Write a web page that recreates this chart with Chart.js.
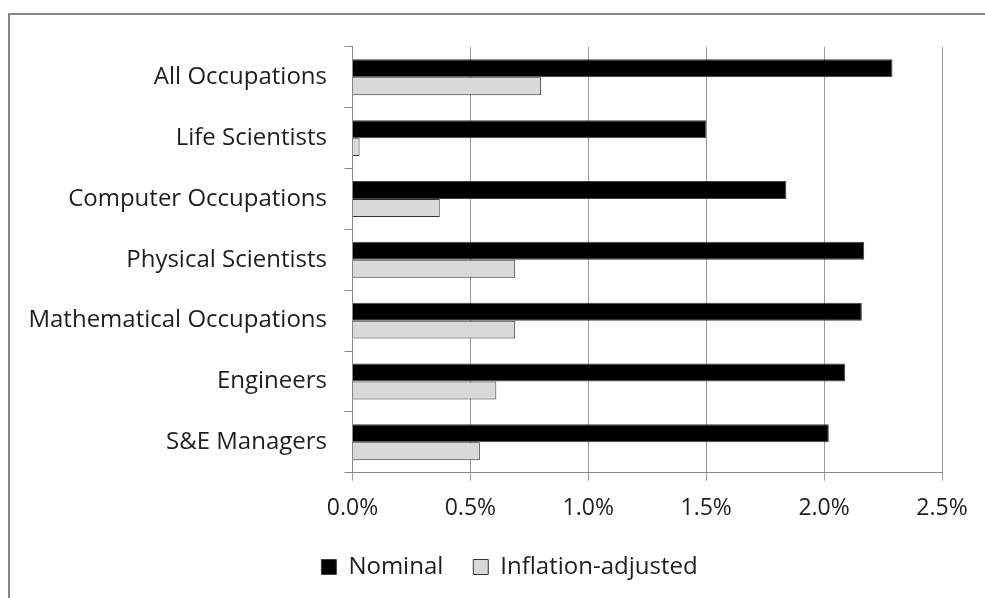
<!DOCTYPE html>
<html>
<head>
<meta charset="utf-8">
<script src="https://cdn.jsdelivr.net/npm/chart.js@4.4.1/dist/chart.umd.min.js"></script>
<style>
  html, body { margin: 0; padding: 0; background: #fff; overflow: hidden; width: 985px; height: 598px; }
  .frame { position: absolute; left: 8px; top: 13px; width: 1010px; height: 620px; border: 2px solid #878787; }
  #wageChart { position: absolute; left: 10px; top: 15px; }
</style>
</head>
<body>
<div class="frame"></div>
<canvas id="wageChart" width="972" height="574"></canvas>
<script>
const categories = [
  "All Occupations",
  "Life Scientists",
  "Computer Occupations",
  "Physical Scientists",
  "Mathematical Occupations",
  "Engineers",
  "S&E Managers"
];
const nominal = [2.29, 1.50, 1.84, 2.17, 2.16, 2.09, 2.02];
const inflationAdjusted = [0.80, 0.03, 0.37, 0.69, 0.69, 0.61, 0.54];
const seriesNames = ["Nominal", "Inflation-adjusted"];
const xMin = 0, xMax = 2.5, xStep = 0.5;

const font = "'Open Sans', 'Noto Sans', sans-serif";
const textColor = "#1e1e1e";

// the legend in the original sits centred on the whole (wider) frame, not the canvas
const legendShift = {
  id: "legendShift",
  afterLayout(chart) {
    if (chart.legend) chart.legend.left = 67;
  },
};

function createChart() {
  const ctx = document.getElementById("wageChart").getContext("2d");
  try {
    new Chart(ctx, {
      type: "bar",
      data: {
        labels: categories,
        datasets: [
          {
            label: seriesNames[0],
            data: nominal,
            backgroundColor: "#000000",
            borderColor: "#404040",
            borderWidth: 1,
          },
          {
            label: seriesNames[1],
            data: inflationAdjusted,
            backgroundColor: "#d9d9d9",
            borderColor: "#333333",
            borderWidth: 1,
          },
        ],
      },
      options: {
        indexAxis: "y",
        responsive: false,
        animation: false,
        devicePixelRatio: 1,
        categoryPercentage: 0.59,
        barPercentage: 1.0,
        layout: {
          padding: { left: 0, right: 40, top: 30, bottom: 0 },
        },
        scales: {
          x: {
            min: xMin,
            max: xMax,
            ticks: {
              stepSize: xStep,
              padding: 14,
              color: textColor,
              font: { family: font, size: 23 },
              callback: (v) => Number(v).toFixed(1) + "%",
            },
            grid: {
              color: "#9a9a9a",
              lineWidth: 1,
              tickLength: 8,
            },
            border: { color: "#888888", width: 1 },
            afterFit: (s) => { s.height = 52.3; },
          },
          y: {
            grid: {
              offset: true,
              drawOnChartArea: false,
              color: "#888888",
              tickLength: 8,
            },
            border: { color: "#888888", width: 1 },
            ticks: {
              padding: 17.5,
              color: textColor,
              font: { family: font, size: 24 },
            },
            afterFit: (s) => { s.width = 342.5; },
          },
        },
        plugins: {
          title: { display: false },
          tooltip: { enabled: false },
          legend: {
            position: "bottom",
            labels: {
              boxWidth: 15,
              boxHeight: 15,
              padding: 30,
              color: textColor,
              font: { family: font, size: 24 },
            },
          },
        },
      },
      plugins: [legendShift],
    });
  } catch (error) {
    console.log("Error creating chart:", error);
  }
}

createChart();
</script>
</body>
</html>
